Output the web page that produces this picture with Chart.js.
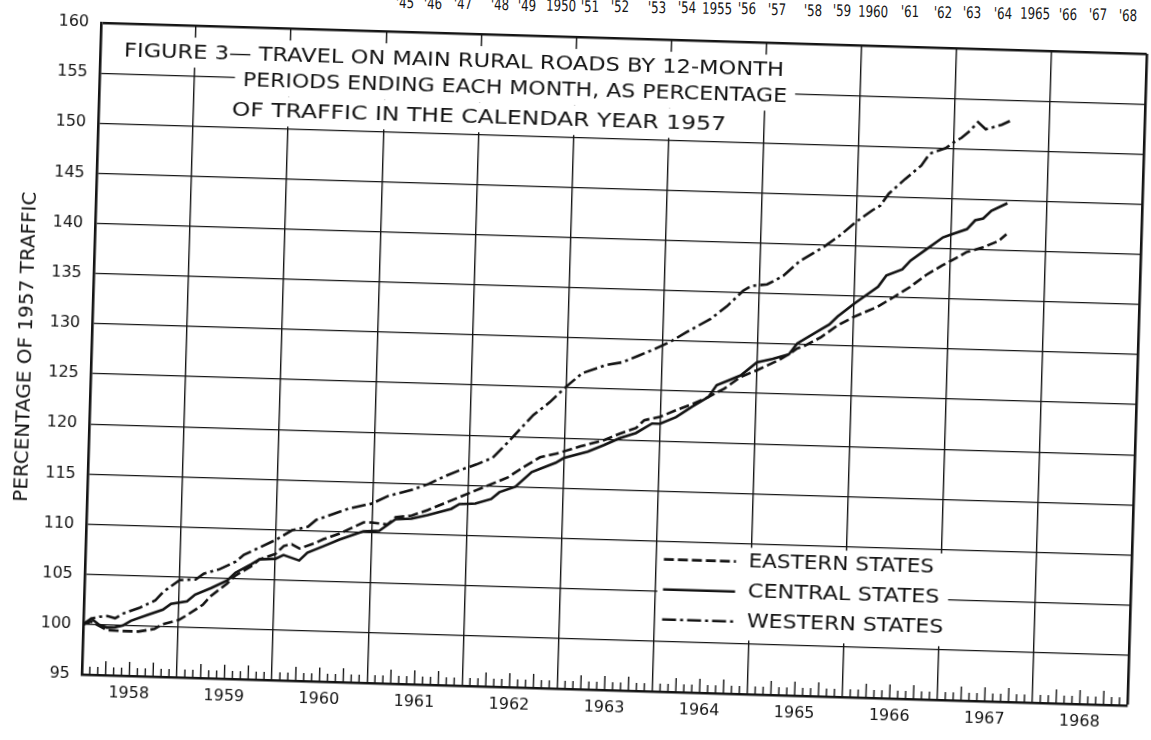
<!DOCTYPE html>
<html>
<head>
<meta charset="utf-8">
<script src="https://cdn.jsdelivr.net/npm/chart.js@4.4.1/dist/chart.umd.min.js"></script>
<style>
html,body{margin:0;padding:0;background:#fff;overflow:hidden;width:1151px;height:740px;}
#wrap{position:absolute;left:0;top:0;width:1151px;height:740px;transform:rotate(1.7deg);transform-origin:575.5px 370px;}
#topstrip{position:absolute;left:0;top:0;width:1151px;height:24px;font:16px "Liberation Sans Narrow","DejaVu Sans Condensed",sans-serif;color:#151515;line-height:16px;}
#topstrip span{position:absolute;transform:translateX(-50%) rotate(1deg) scaleX(0.82);white-space:nowrap;}
</style>
</head>
<body>
<div id="topstrip"></div>
<div id="wrap"><canvas id="c" width="1151" height="740"></canvas></div>
<script>
// ---------- DATA (12-month periods ending each month; month 0 = Dec 1957) ----------
const westMonths = [0,1,2,3,4,5,7,9,10,12,14,15,17,19,20,22,24,26,28,29,31,33,36,38,41,43,45,47,49,51,53,56,58,60,62,65,67,69,71,73,75,78,80,82,83,85,87,89,92,94,96,98,99,100,102,104,105,107,108,109,110,111,112,114,115];
const westValues = [100,100.6,100.8,100.9,100.7,101.2,101.8,102.6,103.5,104.7,104.8,105.4,105.9,106.7,107.4,108.2,109.0,110.0,110.4,111.1,111.7,112.3,112.9,113.7,114.4,115.0,115.8,116.5,117.1,117.8,119.5,122.2,123.5,125.1,126.5,127.4,127.7,128.4,129.1,129.9,130.9,132.3,133.6,135.2,135.7,135.9,136.8,138.3,139.8,141.0,142.4,143.6,144.1,145.3,146.8,148.2,149.4,150.0,150.6,151.1,151.8,152.7,152.0,152.5,152.9];

const centMonths = [0,1,2,3,4,5,6,8,10,11,13,14,16,18,19,21,22,24,25,27,28,30,32,35,37,38,39,41,43,46,47,49,51,52,54,56,59,60,63,65,67,69,71,72,74,76,78,79,82,84,86,88,89,92,93,94,96,97,99,100,102,103,105,107,108,110,111,112,113,115];
const centValues = [100,100.6,100.0,99.75,99.8,100.0,100.5,101.1,101.7,102.3,102.6,103.3,104.0,104.8,105.6,106.5,107.0,107.1,107.5,107.0,107.8,108.5,109.2,110.1,110.2,110.8,111.4,111.5,111.9,112.6,113.1,113.2,113.7,114.4,115.0,116.5,117.5,118.0,118.7,119.4,120.15,120.7,121.7,121.7,122.4,123.5,124.5,125.7,126.75,128.1,128.5,129.0,130.1,131.6,132.1,132.9,134.2,134.8,136.0,137.15,137.8,138.7,139.9,141.1,141.4,142.0,142.9,143.1,143.9,144.7];

const eastMonths = [0,1,3,5,7,9,10,12,13,15,16,18,19,21,22,24,25,26,27,29,30,32,35,36,38,39,41,43,45,47,49,51,53,55,57,59,62,65,67,69,70,72,74,76,78,80,82,84,87,88,89,90,92,94,96,99,101,103,105,107,109,110,112,114,115];
const eastValues = [100,100.3,99.5,99.45,99.45,99.75,100.25,100.7,101.2,102.3,103.2,104.5,105.3,106.3,107.0,107.6,108.4,108.6,108.2,108.8,109.2,109.8,111.0,111.0,110.85,111.6,111.8,112.4,113.1,113.8,114.5,115.2,115.9,117.0,118.0,118.4,119.2,119.9,120.6,121.2,122.0,122.4,123.1,123.75,124.5,125.4,126.6,127.3,128.5,129.0,129.6,129.9,130.8,132.0,132.9,134.0,135.0,136.05,137.3,138.3,139.2,139.7,140.2,140.9,141.6];

const seriesNames = ['EASTERN STATES','CENTRAL STATES','WESTERN STATES'];
const yearLabels = ['1958','1959','1960','1961','1962','1963','1964','1965','1966','1967','1968'];
const yTickValues = [95,100,105,110,115,120,125,130,135,140,145,150,155,160];
const titleLines = ['FIGURE 3\u2014 TRAVEL ON MAIN RURAL ROADS BY 12-MONTH','PERIODS ENDING EACH MONTH, AS PERCENTAGE','OF TRAFFIC IN THE CALENDAR YEAR 1957'];
const yAxisTitle = 'PERCENTAGE OF 1957 TRAFFIC';
const topStripLabels = ["'45","'46","'47","'48","'49","1950","'51","'52","'53","'54","1955","'56","'57","'58","'59","1960","'61","'62","'63","'64","1965","'66","'67","'68"];

// ---------- layout (not data) ----------
const topStripX = [405,433,463,500,527,561,590,620,657,687,717,747,777,813,842,873,910,943,972,1003,1035,1068,1098,1128];
const titleSpans = [{x0:3,x1:86.3,y:157.2},{x0:18.1,x1:86.8,y:154.6},{x0:16.8,x1:79.2,y:151.6}];
const legendBox = {x0:72.3,x1:109,y0:109.6,y1:100.35};
const legendRows = [{y:108.2,x1:107.1},{y:105.2,x1:107.9},{y:102.2,x1:108.5}];
const legendSample = {x0:73.0,x1:82.1,textX:83.7};
const INK = '#141414';
const FONT = '"DejaVu Sans", "Liberation Sans", sans-serif';

// top bleed-through strip (slightly tilted line of text)
const strip = document.getElementById('topstrip');
topStripLabels.forEach((t,i)=>{
  const s=document.createElement('span');
  s.textContent=t;
  const x=topStripX[i];
  const baseline = 11.7 + (x-561)*0.0175;
  s.style.left=x+'px';
  s.style.top=(baseline-13.6)+'px';
  strip.appendChild(s);
});

const pts = (m,v)=>m.map((x,i)=>({x:x,y:v[i]}));

function fitText(ctx, text, x0, x1, yc){
  const w = ctx.measureText(text).width;
  ctx.save();
  ctx.translate(x0, yc);
  ctx.scale((x1-x0)/w, 1);
  ctx.textBaseline = 'middle';
  ctx.textAlign = 'left';
  ctx.fillText(text, 0, 0);
  ctx.restore();
}

const monthTicks = {
  id:'monthTicks',
  beforeDatasetsDraw(chart){
    const {ctx, chartArea:a, scales:{x}} = chart;
    ctx.save();
    ctx.strokeStyle = INK; ctx.lineWidth = 1.4;
    for(let m=1;m<132;m++){
      if(m%12===0) continue;
      const px = x.getPixelForValue(m);
      const h = (m%3===0)?14:8;
      ctx.beginPath(); ctx.moveTo(px,a.bottom); ctx.lineTo(px,a.bottom-h); ctx.stroke();
    }
    ctx.restore();
  }
};

const annotations = {
  id:'annotations',
  beforeDatasetsDraw(chart){
    const {ctx, scales:{x,y}} = chart;
    ctx.save();
    ctx.font = '20px ' + FONT;
    ctx.fillStyle = '#fff';
    titleSpans.forEach(s=>{
      const c = y.getPixelForValue(s.y);
      const l = x.getPixelForValue(s.x0)-8, r = x.getPixelForValue(s.x1)+8;
      ctx.fillRect(l, c-16, r-l, 30);
    });
    ctx.fillStyle = INK;
    titleSpans.forEach((s,i)=>{
      fitText(ctx, titleLines[i], x.getPixelForValue(s.x0), x.getPixelForValue(s.x1), y.getPixelForValue(s.y));
    });
    const bl = x.getPixelForValue(legendBox.x0), br = x.getPixelForValue(legendBox.x1);
    const bt = y.getPixelForValue(legendBox.y0), bb = y.getPixelForValue(legendBox.y1);
    ctx.fillStyle = '#fff';
    ctx.fillRect(bl, bt, br-bl, bb-bt);
    chart.data.datasets.forEach((ds,i)=>{
      const r = legendRows[i];
      const yc = y.getPixelForValue(r.y);
      ctx.save();
      ctx.strokeStyle = INK; ctx.lineWidth = 2.6; ctx.setLineDash(ds.borderDash||[]);
      ctx.beginPath();
      ctx.moveTo(x.getPixelForValue(legendSample.x0), yc);
      ctx.lineTo(x.getPixelForValue(legendSample.x1), yc);
      ctx.stroke();
      ctx.restore();
      ctx.fillStyle = INK;
      fitText(ctx, ds.label, x.getPixelForValue(legendSample.textX), x.getPixelForValue(r.x1), yc);
    });
    ctx.restore();
  }
};

new Chart(document.getElementById('c'), {
  type:'line',
  data:{
    datasets:[
      {label:seriesNames[0], data:pts(eastMonths,eastValues), borderColor:INK, borderWidth:2.6, borderDash:[10,4], pointRadius:0, tension:0, fill:false},
      {label:seriesNames[1], data:pts(centMonths,centValues), borderColor:INK, borderWidth:2.6, borderDash:[], pointRadius:0, tension:0, fill:false},
      {label:seriesNames[2], data:pts(westMonths,westValues), borderColor:INK, borderWidth:2.6, borderDash:[14,4,3,4], pointRadius:0, tension:0, fill:false}
    ]
  },
  options:{
    responsive:false,
    animation:false,
    layout:{padding:{top:37,right:14,left:0,bottom:0}},
    plugins:{legend:{display:false}, tooltip:{enabled:false}, title:{display:false}},
    scales:{
      x:{
        type:'linear', min:0, max:132,
        afterFit:(s)=>{s.height=51;},
        afterBuildTicks:(s)=>{const t=[];for(let v=0;v<=132;v+=6)t.push({value:v});s.ticks=t;},
        ticks:{autoSkip:false, maxRotation:0, padding:8, color:INK, font:{family:FONT,size:16},
          callback:(v)=> (v%12===6) ? yearLabels[(v-6)/12] : ''},
        grid:{drawTicks:false,
          color:(c)=> (c.tick && c.tick.value%12===0) ? INK : 'rgba(0,0,0,0)',
          lineWidth:(c)=> (c.tick && c.tick.value===132) ? 2.6 : 1.4},
        border:{display:true, color:INK, width:2.6}
      },
      y:{
        type:'linear', min:95, max:160,
        afterFit:(s)=>{s.width=91;},
        afterBuildTicks:(s)=>{s.ticks=yTickValues.map(v=>({value:v}));},
        ticks:{padding:12, color:INK, font:{family:FONT,size:16}, callback:(v)=>String(v)},
        grid:{drawTicks:false, color:INK, lineWidth:(c)=> (c.tick && c.tick.value===160) ? 2.6 : 1.3},
        border:{display:true, color:INK, width:2.6},
        title:{display:true, text:yAxisTitle, color:INK, font:{family:FONT,size:20}, padding:{top:14,bottom:0}}
      }
    }
  },
  plugins:[monthTicks, annotations]
});
</script>
</body>
</html>
